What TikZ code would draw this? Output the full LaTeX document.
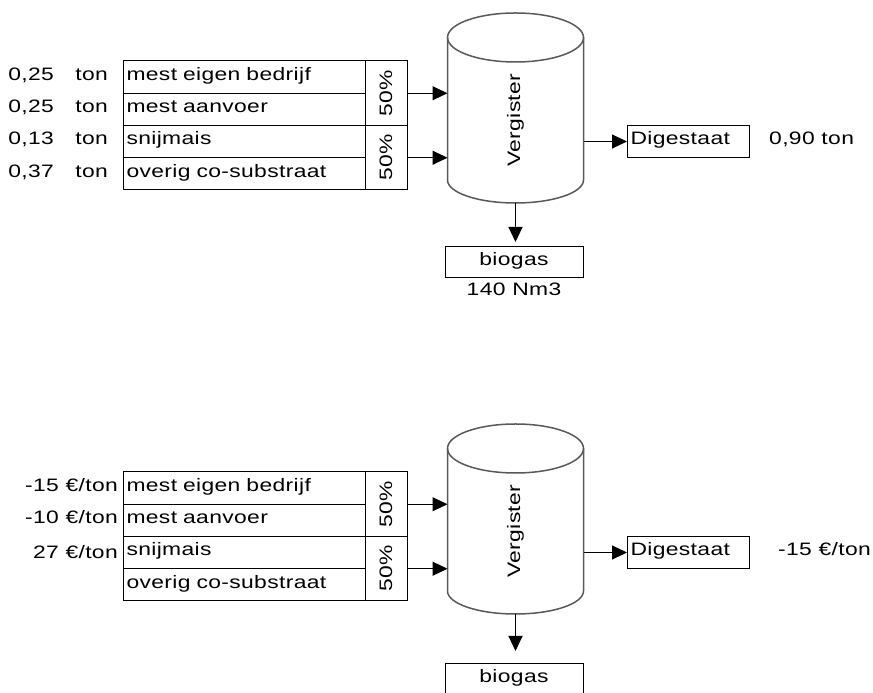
\documentclass[tikz,border=0pt]{standalone}
\usepackage{fontspec}
\setmainfont{Liberation Sans}[FakeStretch=1.27,LetterSpace=2]
\usetikzlibrary{shapes.geometric, arrows.meta, positioning}

\tikzstyle{cell} = [rectangle, draw, line width=1pt, outer sep=0pt, minimum height=32.25pt, text width=235pt, inner xsep=3.5pt, align=left, text height=1.5ex, text depth=.3ex]
\tikzstyle{share} = [rectangle, draw, line width=1pt, outer sep=0pt, minimum width=42pt, minimum height=64.5pt, inner sep=0pt]
\tikzstyle{tank} = [rectangle, outer sep=0pt, minimum width=136pt, minimum height=165.5pt, inner sep=0pt]
\tikzstyle{tankline} = [draw=black!65, line width=1.5pt]
\tikzstyle{outbox} = [rectangle, draw, line width=1pt, outer sep=0pt, minimum height=32pt, text height=1.5ex, text depth=.3ex]
\tikzstyle{val} = [inner sep=0pt, text height=1.5ex, text depth=.3ex]
\tikzstyle{arrow} = [line width=1pt, -{Triangle[length=15pt,width=14pt]}]

\begin{document}
\begin{tikzpicture}[x=1pt, y=1pt, font=\fontsize{18}{21}\selectfont]
\useasboundingbox (0,0) rectangle (873,693);

% amounts
\node (t1) [cell] at (244,615.875) {mest eigen bedrijf};
\node (t2) [cell, below=0pt of t1] {mest aanvoer};
\node (t3) [cell, below=0pt of t2] {snijmais};
\node (t4) [cell, below=0pt of t3] {overig co-substraat};
\node (tp1) [share, anchor=north west] at (t1.north east) {\rotatebox{90}{50\%}};
\node (tp2) [share, below=0pt of tp1] {\rotatebox{90}{50\%}};
\node (tu1) [val, left=15pt of t1] {ton};
\node (tu2) [val, left=15pt of t2] {ton};
\node (tu3) [val, left=15pt of t3] {ton};
\node (tu4) [val, left=15pt of t4] {ton};
\node (tn1) [val, left=21pt of tu1] {0,25};
\node (tn2) [val, left=21pt of tu2] {0,25};
\node (tn3) [val, left=21pt of tu3] {0,13};
\node (tn4) [val, left=21pt of tu4] {0,37};
\node (tv) [tank] at (515.5,572.75) {\rotatebox{90}{Vergister}};
\draw [tankline] (tv.north west) -- ([yshift=23pt]tv.south west)
  arc [start angle=180, end angle=360, x radius=68pt, y radius=23pt] -- (tv.north east);
\draw [tankline] (tv.north) ellipse [x radius=68pt, y radius=24.5pt];
\node (td) [outbox, text width=115pt, inner xsep=3.5pt, align=left] at (688,551.5) {Digestaat};
\node (tdv) [val, right=20pt of td] {0,90 ton};
\node (tb) [outbox, minimum width=138pt, minimum height=31pt] at (514,430.5) {biogas};
\node (tbv) [val, below=9pt of tb] {140 Nm3};

\draw [arrow] (tp1.east) -- (tp1.east -| tv.west);
\draw [arrow] (tp2.east) -- (tp2.east -| tv.west);
\draw [arrow] (td.west -| tv.east) -- (td.west);
\draw [arrow, shorten >=5pt] (tv.south) -- (tv.south |- tb.north);

% prices
\node (b1) [cell] at (244,204.875) {mest eigen bedrijf};
\node (b2) [cell, below=0pt of b1] {mest aanvoer};
\node (b3) [cell, below=0pt of b2] {snijmais};
\node (b4) [cell, below=0pt of b3] {overig co-substraat};
\node (bp1) [share, anchor=north west] at (b1.north east) {\rotatebox{90}{50\%}};
\node (bp2) [share, below=0pt of bp1] {\rotatebox{90}{50\%}};
\node (bn1) [val, left=5pt of b1] {-15 €/ton};
\node (bn2) [val, left=5pt of b2] {-10 €/ton};
\node (bn3) [val, left=5pt of b3, yshift=-3pt] {27 €/ton};
\node (bv) [tank] at (515.5,161.75) {\rotatebox{90}{Vergister}};
\draw [tankline] (bv.north west) -- ([yshift=23pt]bv.south west)
  arc [start angle=180, end angle=360, x radius=68pt, y radius=23pt] -- (bv.north east);
\draw [tankline] (bv.north) ellipse [x radius=68pt, y radius=24.5pt];
\node (bd) [outbox, text width=115pt, inner xsep=3.5pt, align=left] at (688,140.5) {Digestaat};
\node (bdv) [val, right=29pt of bd] {-15 €/ton};
\node (bb) [outbox, minimum width=138pt, minimum height=31pt] at (514,13.5) {biogas};

\draw [arrow] (bp1.east) -- (bp1.east -| bv.west);
\draw [arrow] (bp2.east) -- (bp2.east -| bv.west);
\draw [arrow] (bd.west -| bv.east) -- (bd.west);
\draw [arrow, shorten >=13pt] (bv.south) -- (bv.south |- bb.north);

\end{tikzpicture}
\end{document}
